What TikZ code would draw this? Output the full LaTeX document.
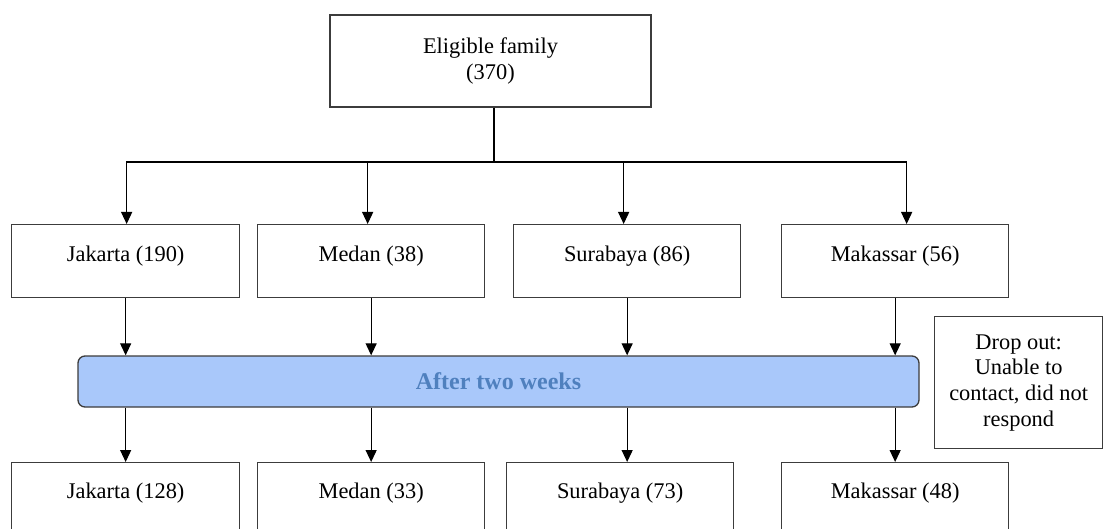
\documentclass[tikz,border=0pt]{standalone}
\usepackage{fontspec}
\setmainfont{Liberation Serif}
\usetikzlibrary{arrows.meta,calc}
\definecolor{barfill}{HTML}{A9C8FA}
\definecolor{bartext}{HTML}{4F80BE}
\definecolor{edgecol}{HTML}{3C3C3C}
\begin{document}
\begin{tikzpicture}[x=1pt,y=-1pt,
  txt/.style={font=\fontsize{22.4}{25.6}\selectfont},
  box/.style={txt,draw=edgecol,line width=1.3pt,inner sep=0pt,anchor=north west},
  rowa/.style={box,minimum width=227pt,text height=36.5pt,text depth=36.5pt},
  rowb/.style={box,minimum width=227pt,text height=35.5pt,text depth=50pt},
  arr/.style={draw=black,line width=1.2pt,-{Triangle[width=11pt,length=12pt]}}]
\useasboundingbox (0,0) rectangle (1103,529);
\clip (0,0) rectangle (1103,529);

\node[box,anchor=center,minimum width=321pt,minimum height=92pt,align=center] (top) at (490.5,61) {Eligible family\\(370)};

\node[rowa,minimum width=228pt] (j1) at (11,224) {Jakarta (190)};
\node[rowa] (m1) at (257,224) {Medan (38)};
\node[rowa] (s1) at (513,224) {Surabaya (86)};
\node[rowa] (k1) at (781,224) {Makassar (56)};

\node[draw=edgecol,line width=1.3pt,fill=barfill,rounded corners=7pt,minimum width=841pt,minimum height=51pt,inner sep=0pt,
      font=\fontsize{24}{28}\selectfont\bfseries,text=bartext] (bar) at (498.5,381.5) {After two weeks};

\node[box,minimum width=168pt,minimum height=132pt,align=center] (drop) at (934,316) {Drop out:\\Unable to\\contact, did not\\respond};

\node[rowb,minimum width=228pt] (j2) at (11,462) {Jakarta (128)};
\node[rowb] (m2) at (257,462) {Medan (33)};
\node[rowb] (s2) at (506,462) {Surabaya (73)};
\node[rowb] (k2) at (781,462) {Makassar (48)};

\coordinate (split) at (494,162);
\draw[line width=1.8pt] (top.south -| split) -- (split);
\draw[arr] (split) -| ($(j1.north)+(1,0)$);
\draw[arr] (split) -| ($(m1.north)+(-3.5,0)$);
\draw[arr] (split) -| ($(s1.north)+(-3.5,0)$);
\draw[arr] (split) -| ($(k1.north)+(11.5,0)$);
\draw[line width=2.2pt] (532,162) -- (587,162);

\foreach \a/\b in {j1/j2, m1/m2, s1/s2, k1/k2} {
  \draw[arr] (\a.south) -- (\a.south |- bar.north);
  \draw[arr] (\a.south |- bar.south) -- (\a.south |- \b.north);
}
\end{tikzpicture}
\end{document}
